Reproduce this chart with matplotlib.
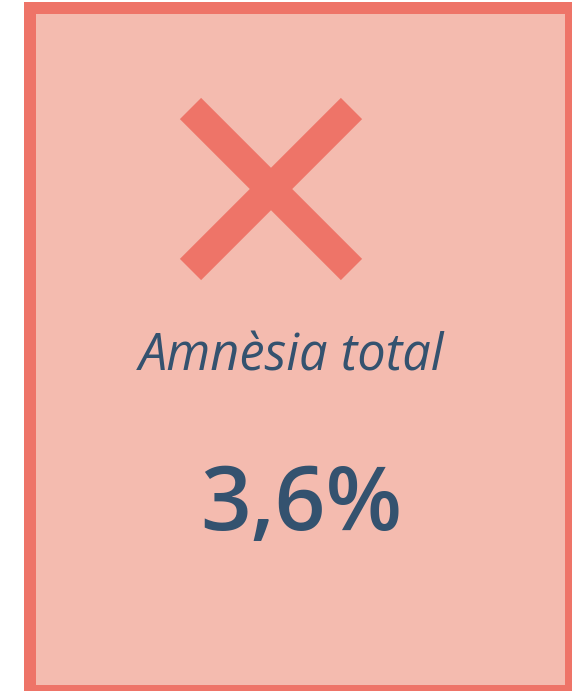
import matplotlib
matplotlib.use("Agg")
import matplotlib.pyplot as plt
from matplotlib.patches import Rectangle

# Data
category = "Amnèsia total"
value = 3.6
value_label = f"{value:.1f}".replace(".", ",") + "%"

W, H, DPI = 572, 691, 100
fig = plt.figure(figsize=(W / DPI, H / DPI), dpi=DPI)
fig.patch.set_facecolor("white")
ax = fig.add_axes([0, 0, 1, 1])
ax.set_xlim(0, W)
ax.set_ylim(H, 0)
ax.axis("off")

px = 72 / DPI
border = "#EE7468"
fill = "#F4BBAF"
textc = "#34526F"

ax.add_patch(Rectangle((30, 8), 541, 683, facecolor=fill, edgecolor=border,
                       linewidth=12 * px, joinstyle="miter"))

cx, cy, d = 271, 189, 80.5
for sx in (-1, 1):
    ax.plot([cx - d, cx + d], [cy - sx * d, cy + sx * d], color=border,
            linewidth=30 * px, solid_capstyle="butt")

ax.text(292, 370, category, ha="center", va="baseline", color=textc,
        fontsize=50.5 * px, style="italic", family=["Open Sans", "DejaVu Sans"])
ax.text(301.5, 530, value_label, ha="center", va="baseline", color=textc,
        fontsize=89 * px, fontweight="semibold", family=["Open Sans", "DejaVu Sans"])

fig.savefig("out.png", dpi=DPI, facecolor="white")
